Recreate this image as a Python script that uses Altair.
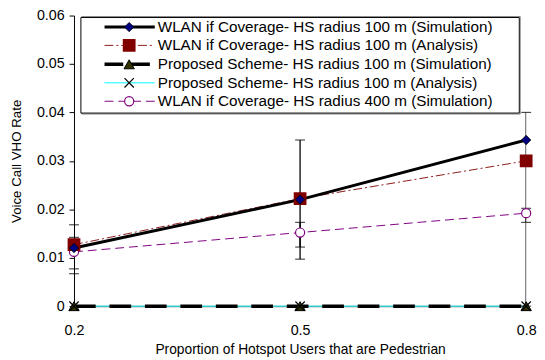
import altair as alt
import pandas as pd

# ---- data ----
x_vals = [0.2, 0.5, 0.8]
wlan100_sim = [0.0120, 0.0220, 0.0343]
wlan100_ana = [0.0127, 0.0222, 0.0300]
prop_sim = [0.0, 0.0, 0.0]
prop_ana = [0.0, 0.0, 0.0]
wlan400_sim = [0.0112, 0.0152, 0.0192]

wlan100_err_lo = [0.0067, 0.0097, 0.0000]
wlan100_err_hi = [0.0168, 0.0343, 0.0400]
wlan400_err_lo = [0.0077, 0.0122, 0.0173]
wlan400_err_hi = [0.0142, 0.0173, 0.0202]

y_ticks = [0, 0.01, 0.02, 0.03, 0.04, 0.05, 0.06]
legend_labels = [
    "WLAN if Coverage- HS radius 100 m (Simulation)",
    "WLAN if Coverage- HS radius 100 m (Analysis)",
    "Proposed Scheme- HS radius 100 m (Simulation)",
    "Proposed Scheme- HS radius 100 m (Analysis)",
    "WLAN if Coverage- HS radius 400 m (Simulation)",
]

FONT = "Liberation Sans"
W, H = 459, 295

xs = alt.X("x:Q", scale=alt.Scale(domain=[0.2, 0.8], nice=False),
           axis=alt.Axis(values=x_vals, format=".1f", title="Proportion of Hotspot Users that are Pedestrian",
                         tickSize=0, labelPadding=18, domainColor="black", labelFontSize=14.5,
                         titleFontSize=14, titlePadding=6, grid=False, labelColor="black",
                         titleColor="black", titleFontWeight="normal", labelFlush=False))
ys = alt.Y("y:Q", scale=alt.Scale(domain=[0, 0.06], nice=False),
           axis=alt.Axis(values=y_ticks, title="Voice Call VHO Rate", tickSize=5, tickColor="black",
                         labelPadding=5, domainColor="black", labelFontSize=14.5, titleFontSize=13.5,
                         titlePadding=13, grid=False, labelColor="black", titleColor="black",
                         titleFontWeight="normal",
                         labelExpr="datum.value == 0 ? '0' : format(datum.value, '.2f')"))
xn = alt.X("x:Q")
yn = alt.Y("y:Q")


def df(vals):
    return pd.DataFrame({"x": x_vals, "y": vals})


def err_df(lo, hi):
    return pd.DataFrame({"x": x_vals, "lo": lo, "hi": hi})


base_axes = alt.Chart(df(wlan100_sim)).mark_point(opacity=0).encode(x=xs, y=ys)

layers = [base_axes]

CYAN = "#33CCCC"
# Proposed scheme analysis (cyan)
layers.append(alt.Chart(df(prop_ana)).mark_line(color=CYAN, strokeWidth=1.5).encode(x=xn, y=yn))
# Proposed scheme simulation (black thick dashed)
layers.append(alt.Chart(df(prop_sim)).mark_line(color="black", strokeWidth=3.5, strokeDash=[22, 14]).encode(x=xn, y=yn))
# WLAN 400 sim (purple dashed)
layers.append(alt.Chart(df(wlan400_sim)).mark_line(color="#800080", strokeWidth=1, strokeDash=[9, 5]).encode(x=xn, y=yn))
# WLAN 100 analysis (dark red dash-dot)
layers.append(alt.Chart(df(wlan100_ana)).mark_line(color="#8B1A1A", strokeWidth=1, strokeDash=[9, 3, 2, 3]).encode(x=xn, y=yn))
# WLAN 100 sim (black thick)
layers.append(alt.Chart(df(wlan100_sim)).mark_line(color="black", strokeWidth=3).encode(x=xn, y=yn))

# error bars
for lo, hi in [(wlan100_err_lo, wlan100_err_hi), (wlan400_err_lo, wlan400_err_hi)]:
    e = alt.Chart(err_df(lo, hi))
    layers.append(e.mark_rule(color="black", strokeWidth=1.3, clip=True).encode(x=xn, y=alt.Y("lo:Q"), y2="hi:Q"))
    layers.append(e.mark_tick(color="black", orient="horizontal", size=10, thickness=1.2).encode(x=xn, y=alt.Y("hi:Q")))
    layers.append(e.mark_tick(color="black", orient="horizontal", size=10, thickness=1.2).encode(x=xn, y=alt.Y("lo:Q")))

# markers
layers.append(alt.Chart(df(prop_sim)).mark_point(shape="triangle-up", filled=True, fill="#333300", stroke="black",
                                                 strokeWidth=1, size=110, opacity=1).encode(x=xn, y=yn))
layers.append(alt.Chart(df(prop_ana)).mark_point(shape="M-1,-1L1,1M-1,1L1,-1", filled=False, stroke="black",
                                                 strokeWidth=1.2, size=90, opacity=1).encode(x=xn, y=yn))
layers.append(alt.Chart(df(wlan400_sim)).mark_point(shape="circle", filled=True, fill="white", stroke="#800080",
                                                    strokeWidth=1.2, size=85, opacity=1).encode(x=xn, y=yn))
layers.append(alt.Chart(df(wlan100_ana)).mark_point(shape="square", filled=True, fill="#800000", stroke="#800000",
                                                    size=120, opacity=1).encode(x=xn, y=yn))
layers.append(alt.Chart(df(wlan100_sim)).mark_point(shape="diamond", filled=True, fill="#000080", stroke="black",
                                                    strokeWidth=0.8, size=90, opacity=1).encode(x=xn, y=yn))

# ---- custom legend box ----
one = alt.Data(values=[{"a": 1}])
bx0, bx1, by0, by1 = 7, 452, 2, 99
layers.append(alt.Chart(one).mark_rect(fill="white", stroke="#888888", strokeWidth=1).encode(
    x=alt.value(bx0 + 1), x2=alt.value(bx1 + 1), y=alt.value(by0 - 1), y2=alt.value(by1 + 1)))
layers.append(alt.Chart(one).mark_rect(fill="white", stroke="black", strokeWidth=1).encode(
    x=alt.value(bx0), x2=alt.value(bx1), y=alt.value(by0), y2=alt.value(by1)))

row_y = [11.7, 30.3, 49.5, 68.3, 87]
lx0, lx1, lm, lt = 31, 82, 56, 85
line_styles = [
    dict(color="black", strokeWidth=3),
    dict(color="#8B1A1A", strokeWidth=1, strokeDash=[9, 3, 2, 3]),
    dict(color="black", strokeWidth=3.5, strokeDash=[19, 8]),
    dict(color="#00FFFF", strokeWidth=1),
    dict(color="#800080", strokeWidth=1, strokeDash=[9, 5]),
]
marker_styles = [
    dict(shape="diamond", filled=True, fill="#000080", stroke="black", strokeWidth=0.8, size=90),
    dict(shape="square", filled=True, fill="#800000", stroke="#800000", size=120),
    dict(shape="triangle-up", filled=True, fill="#333300", stroke="black", strokeWidth=1, size=110),
    dict(shape="M-1,-1L1,1M-1,1L1,-1", filled=False, stroke="black", strokeWidth=1.2, size=90),
    dict(shape="circle", filled=True, fill="white", stroke="#800080", strokeWidth=1.2, size=85),
]
for i, lab in enumerate(legend_labels):
    yy = row_y[i]
    layers.append(alt.Chart(one).mark_rule(**line_styles[i]).encode(
        x=alt.value(lx0), x2=alt.value(lx1), y=alt.value(yy)))
    layers.append(alt.Chart(one).mark_point(opacity=1, **marker_styles[i]).encode(
        x=alt.value(lm), y=alt.value(yy)))
    layers.append(alt.Chart(one).mark_text(text=lab, align="left", baseline="middle", font=FONT,
                                           fontSize=15.5, color="black").encode(
        x=alt.value(lt), y=alt.value(yy)))

chart = alt.layer(*layers).properties(
    width=W, height=H,
    padding={"left": 67, "top": 5, "right": 11, "bottom": 52},
    autosize=alt.AutoSizeParams(type="none"),
    background="white",
).configure_view(stroke=None).configure_axis(labelFont=FONT, titleFont=FONT).configure_text(font=FONT)

chart.save("out.html", embed_options={"renderer": "svg", "actions": False})
